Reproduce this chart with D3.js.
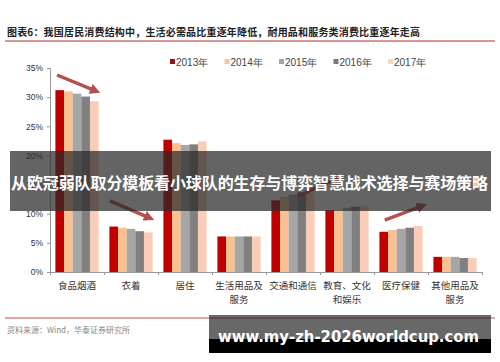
<!DOCTYPE html>
<html>
<head>
<meta charset="utf-8">
<script src="https://cdn.jsdelivr.net/npm/d3@7"></script>
<style>
  body { margin: 0; background: #fff; }
  svg { display: block; }
</style>
</head>
<body>
<div id="graphique"></div>
<script>
// donnees
var categories = ["食品烟酒", "衣着", "居住", "生活用品及服务", "交通和通信", "教育、文化和娱乐", "医疗保健", "其他用品和服务"];
var etiquettes = [["食品烟酒"], ["衣着"], ["居住"], ["生活用品及", "服务"], ["交通和通信"], ["教育、文化", "和娱乐"], ["医疗保健"], ["其他用品及", "服务"]];
var annees = ["2013年", "2014年", "2015年", "2016年", "2017年"];
var v2013 = [31.2, 7.8, 22.7, 6.1, 12.3, 10.6, 6.9, 2.6];
var v2014 = [31.0, 7.6, 22.1, 6.1, 12.9, 10.6, 7.2, 2.6];
var v2015 = [30.6, 7.4, 21.8, 6.1, 13.3, 11.0, 7.4, 2.6];
var v2016 = [30.1, 7.0, 21.9, 6.1, 13.7, 11.2, 7.6, 2.4];
var v2017 = [29.3, 6.8, 22.4, 6.1, 13.6, 11.4, 7.9, 2.4];
var ticksY = [0, 5, 10, 15, 20, 25, 30, 35];
// fleches : [position categorie, valeur] depart -> arrivee
var fleches = [
    [[0.13, 33.8], [0.89, 30.9]],
    [[1.11, 12.2], [1.89, 9.1]],
    [[4.59, 13.0], [5.41, 16.5]],
    [[6.2, 8.9], [6.94, 11.5]]
];

var series = [v2013, v2014, v2015, v2016, v2017];
var couleurs = ["#C00000", "#FAC090", "#A6A6A6", "#808080", "#F9CDB8"];
var couleursLegende = ["#9B1010", "#F6C6A0", "#A6A6A6", "#7A7A7A", "#F3D8C8"];

var largeur = 500, hauteur = 362;
var svg = d3.select("#graphique").append("svg")
    .attr("width", largeur)
    .attr("height", hauteur);

// titre
svg.append("text")
    .attr("x", 7).attr("y", 36)
    .attr("font-family", "Noto Sans CJK SC")
    .attr("font-weight", "bold")
    .attr("font-size", 10)
    .attr("fill", "#222")
    .attr("textLength", 413)
    .text("图表6：我国居民消费结构中，生活必需品比重逐年降低，耐用品和服务类消费比重逐年走高");

svg.append("line")
    .attr("x1", 5).attr("x2", 495)
    .attr("y1", 41).attr("y2", 41)
    .attr("stroke", "#B03030").attr("stroke-width", 1.2);

// echelles
var x0 = d3.scaleBand().domain(categories).range([50, 482]).paddingInner(0.2).paddingOuter(0.1);
var x1 = d3.scaleBand().domain(annees).range([0, x0.bandwidth()]);
var xPos = d3.scaleLinear().domain([0, categories.length]).range([50, 482]);
var y = d3.scaleLinear().domain([0, 35]).range([272, 68]);

// barres
annees.forEach(function (a, i) {
    svg.append("g").selectAll("rect")
        .data(series[i])
        .join("rect")
        .attr("x", function (d, j) { return x0(categories[j]) + x1(a); })
        .attr("y", function (d) { return y(d); })
        .attr("width", x1.bandwidth())
        .attr("height", function (d) { return y(0) - y(d); })
        .attr("fill", couleurs[i]);
});

// axe Y
var axeY = svg.append("g")
    .attr("transform", "translate(50,0)")
    .call(d3.axisLeft(y).tickValues(ticksY).tickSize(3).tickFormat(function (d) { return d + "%"; }));
axeY.select(".domain").attr("stroke", "#999");
axeY.selectAll(".tick line").attr("stroke", "#999");
axeY.selectAll(".tick text")
    .attr("font-family", "Liberation Sans")
    .attr("font-size", 8.5)
    .attr("fill", "#333")
    .attr("x", -7);

// axe X
var axeX = svg.append("g")
    .attr("transform", "translate(0,272)")
    .call(d3.axisBottom(xPos).tickValues(d3.range(1, categories.length + 1)).tickSize(3).tickFormat(""));
axeX.select(".domain").attr("stroke", "#999");
axeX.selectAll(".tick line").attr("stroke", "#999");

// etiquettes des categories
etiquettes.forEach(function (lignes, j) {
    var t = svg.append("text")
        .attr("x", x0(categories[j]) + x0.bandwidth() / 2)
        .attr("y", 289)
        .attr("text-anchor", "middle")
        .attr("font-family", "Noto Sans CJK SC")
        .attr("font-size", 9.5)
        .attr("fill", "#333");
    lignes.forEach(function (l, k) {
        t.append("tspan")
            .attr("x", x0(categories[j]) + x0.bandwidth() / 2)
            .attr("dy", k == 0 ? 0 : 14)
            .text(l);
    });
});

// legende
annees.forEach(function (a, i) {
    var lx = 170 + i * 54.5;
    svg.append("rect")
        .attr("x", lx).attr("y", 59)
        .attr("width", 5).attr("height", 5)
        .attr("fill", couleursLegende[i]);
    svg.append("text")
        .attr("x", lx + 6).attr("y", 65.5)
        .attr("font-family", "Liberation Sans")
        .attr("font-size", 10)
        .attr("fill", "#444")
        .text(a);
});

// fleches
var defs = svg.append("defs");
defs.append("marker")
    .attr("id", "pointe")
    .attr("viewBox", "0 0 10 10")
    .attr("refX", 2).attr("refY", 5)
    .attr("markerWidth", 3).attr("markerHeight", 3)
    .attr("orient", "auto")
    .append("path")
    .attr("d", "M0,0 L10,5 L0,10 Z")
    .attr("fill", "#B5504E");

fleches.forEach(function (f) {
    svg.append("line")
        .attr("x1", xPos(f[0][0])).attr("y1", y(f[0][1]))
        .attr("x2", xPos(f[1][0]) - 6 * Math.cos(Math.atan2(y(f[1][1]) - y(f[0][1]), xPos(f[1][0]) - xPos(f[0][0]))))
        .attr("y2", y(f[1][1]) - 6 * Math.sin(Math.atan2(y(f[1][1]) - y(f[0][1]), xPos(f[1][0]) - xPos(f[0][0]))))
        .attr("stroke", "#B5504E")
        .attr("stroke-width", 3.5)
        .attr("marker-end", "url(#pointe)");
});

// pied de page
svg.append("line")
    .attr("x1", 5).attr("x2", 495)
    .attr("y1", 318).attr("y2", 318)
    .attr("stroke", "#C0504D").attr("stroke-width", 1.2);

svg.append("text")
    .attr("x", 7).attr("y", 333)
    .attr("font-family", "Noto Sans CJK SC")
    .attr("font-size", 8)
    .attr("fill", "#888")
    .text("资料来源：Wind，华泰证券研究所");

// bandeaux superposes
svg.append("rect")
    .attr("x", 10).attr("y", 151)
    .attr("width", 481).attr("height", 60)
    .attr("fill", "rgba(40,40,40,0.72)");

svg.append("text")
    .attr("x", 11).attr("y", 189)
    .attr("font-family", "Noto Sans CJK SC")
    .attr("font-weight", "bold")
    .attr("font-size", 16)
    .attr("fill", "#fff")
    .attr("textLength", 477)
    .text("从欧冠弱队取分模板看小球队的生存与博弈智慧战术选择与赛场策略");

svg.append("rect")
    .attr("x", 209).attr("y", 315)
    .attr("width", 282).attr("height", 24)
    .attr("fill", "rgba(40,40,40,0.7)");
svg.append("rect")
    .attr("x", 209).attr("y", 339)
    .attr("width", 282).attr("height", 14)
    .attr("fill", "#000");

svg.append("text")
    .attr("x", 218).attr("y", 342)
    .attr("font-family", "DejaVu Sans")
    .attr("font-weight", "bold")
    .attr("font-size", 16)
    .attr("fill", "#fff")
    .attr("textLength", 261)
    .attr("lengthAdjust", "spacingAndGlyphs")
    .text("www.my-zh-2026worldcup.com");
</script>
</body>
</html>
